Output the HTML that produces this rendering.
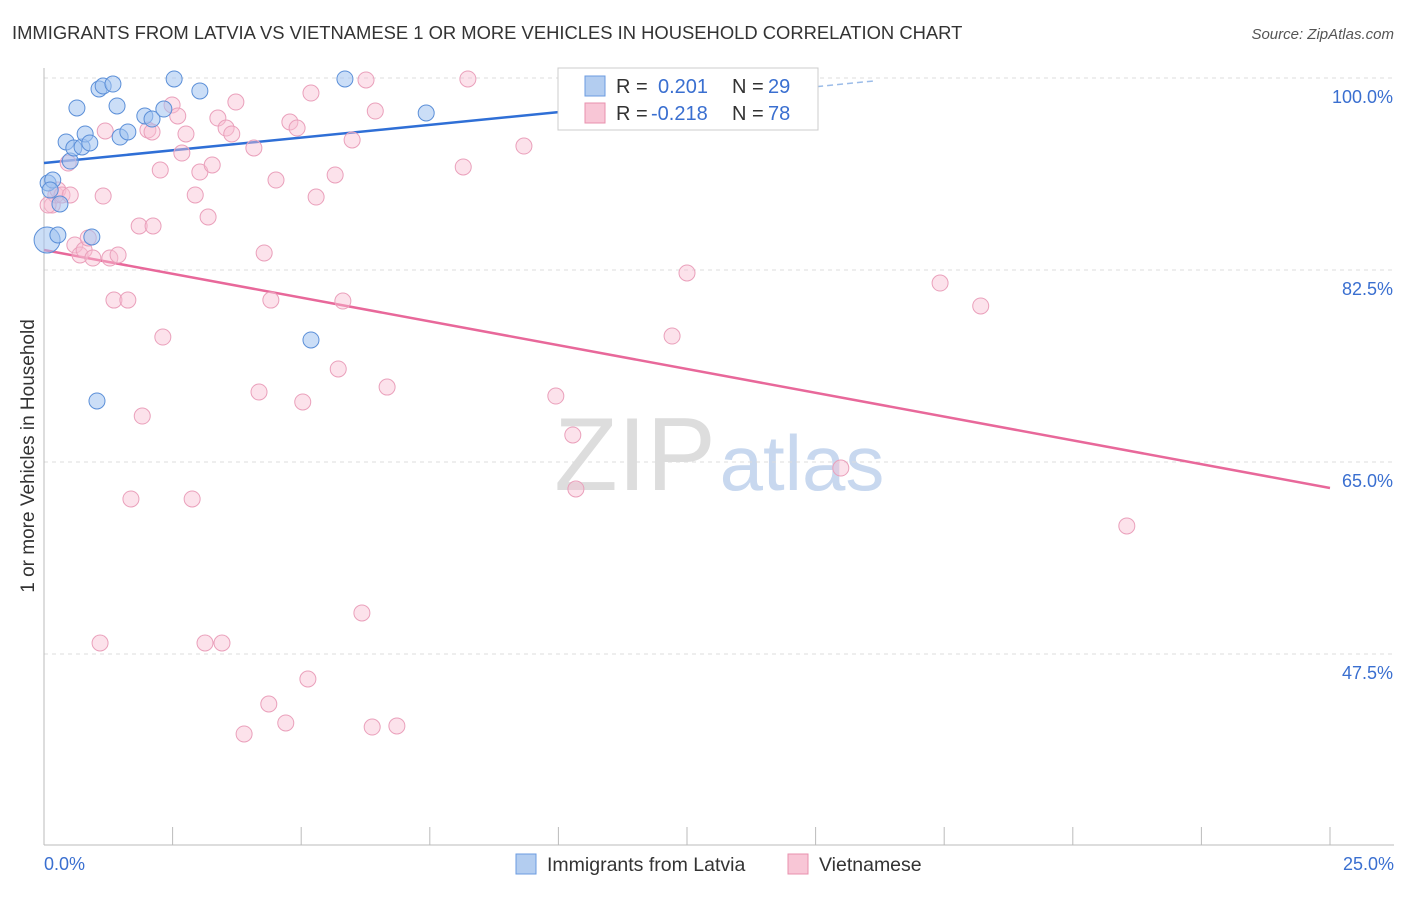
<!DOCTYPE html>
<html><head><meta charset="utf-8"><style>
body{margin:0;background:#fff;font-family:"Liberation Sans",sans-serif;}
svg text{font-family:"Liberation Sans",sans-serif;}
</style></head><body>
<svg id="chart" width="1406" height="892" xmlns="http://www.w3.org/2000/svg">
<text x="12" y="39" font-size="18.4" fill="#333">IMMIGRANTS FROM LATVIA VS VIETNAMESE 1 OR MORE VEHICLES IN HOUSEHOLD CORRELATION CHART</text>
<text x="1394" y="39" font-size="15" fill="#555" text-anchor="end" font-style="italic">Source: ZipAtlas.com</text>
<text x="34" y="456" font-size="19" fill="#333" text-anchor="middle" transform="rotate(-90 34 456)">1 or more Vehicles in Household</text>
<g><text x="635" y="490" font-size="104" fill="#ddd" text-anchor="middle" font-family="Liberation Serif">ZIP</text><text x="802" y="490" font-size="78" fill="#c8d8ef" text-anchor="middle">atlas</text></g>
<g id="grid"></g><g id="axes"></g><g id="lines"></g><g id="pts"></g>
<g>
<rect x="558" y="68" width="260" height="62" fill="#fff" stroke="#ccc"/>
<rect x="585" y="76" width="20" height="20" fill="#b3cdf0" stroke="#6b9be0"/>
<rect x="585" y="103" width="20" height="20" fill="#f8c6d6" stroke="#e890ae"/>
<text x="616" y="93" font-size="20" fill="#333">R = </text><text x="658" y="93" font-size="20" fill="#3a6fd0">0.201</text>
<text x="732" y="93" font-size="20" fill="#333">N = </text><text x="768" y="93" font-size="20" fill="#3a6fd0">29</text>
<text x="616" y="120" font-size="20" fill="#333">R = </text><text x="651" y="120" font-size="20" fill="#3a6fd0">-0.218</text>
<text x="732" y="120" font-size="20" fill="#333">N = </text><text x="768" y="120" font-size="20" fill="#3a6fd0">78</text>
</g>
<g>
<rect x="516" y="854" width="20" height="20" fill="#b3cdf0" stroke="#6b9be0"/>
<text x="547" y="871" font-size="19.5" fill="#333">Immigrants from Latvia</text>
<rect x="788" y="854" width="20" height="20" fill="#f8c6d6" stroke="#e890ae"/>
<text x="819" y="871" font-size="19.5" fill="#333">Vietnamese</text>
</g>
</svg>
<script>
const blueX=[0.08,0.17,0.06,0.27,0.31,0.43,0.51,0.58,0.64,0.74,0.80,0.89,0.93,1.03,1.07,1.15,1.34,1.42,1.48,1.63,1.96,2.10,2.33,2.53,3.03,5.19,5.85,7.43,0.12];
const blueY=[90.43,90.70,85.23,85.69,88.52,94.17,92.43,93.62,97.27,93.71,94.90,94.08,85.51,70.56,99.00,99.27,99.45,97.45,94.62,95.08,96.54,96.26,97.17,99.91,98.82,76.12,99.91,96.81,89.79];
const pinkX=[0.16,0.23,0.27,0.35,0.47,0.51,0.60,0.70,0.78,0.86,0.95,1.09,1.15,1.19,1.28,1.36,1.44,1.63,1.85,1.91,2.02,2.10,2.12,2.26,2.31,2.49,2.60,2.68,2.76,2.88,2.94,3.03,3.13,3.19,3.27,3.38,3.46,3.54,3.65,3.73,4.08,4.18,4.28,4.41,4.51,4.78,4.92,5.03,5.13,5.19,5.29,4.37,3.89,4.70,5.66,5.72,5.81,5.99,6.18,6.26,6.38,6.44,6.67,6.86,8.15,8.24,9.33,9.95,10.28,10.34,12.21,12.50,15.49,17.42,18.21,21.05,1.69,0.08];
const pinkY=[88.42,89.34,89.79,89.34,92.25,89.34,84.78,83.87,84.32,85.42,83.59,48.50,89.24,95.17,83.59,79.76,83.87,79.76,86.51,69.19,95.26,95.08,86.51,91.61,76.39,97.54,96.54,93.16,94.90,61.63,89.34,91.43,48.50,87.33,92.07,96.35,48.50,95.44,94.90,97.81,93.62,71.38,84.05,79.76,90.70,95.99,95.44,70.47,45.22,98.63,89.15,42.94,40.21,41.21,91.16,73.48,79.67,94.35,51.24,99.82,40.84,96.99,71.83,40.94,91.89,99.91,93.80,71.01,67.46,62.54,76.48,82.23,64.45,81.31,79.22,59.17,61.63,88.42];
const yTicks=[100,82.5,65,47.5];
const yTickLabels=["100.0%","82.5%","65.0%","47.5%"];
const xTicks=[0,2.5,5,7.5,10,12.5,15,17.5,20,22.5,25];
const blueTrend=[92.25,0.4636];
const pinkTrend=[84.32,62.63];
const NS="http://www.w3.org/2000/svg";
const X=v=>44+v/25*1286, Y=v=>78+(100-v)*10.971;
function mk(tag,attrs,parent){const e=document.createElementNS(NS,tag);for(const k in attrs)e.setAttribute(k,attrs[k]);document.getElementById(parent).appendChild(e);return e;}
yTicks.forEach((t,i)=>{
 const l=mk('line',{x1:44,x2:1394,y1:Y(t),y2:Y(t),stroke:'#ddd','stroke-dasharray':'4,4'},'grid');
 
 
 const tx=mk('text',{x:1393,y:Y(t)+25,'font-size':18,fill:'#3a6fd0','text-anchor':'end'},'grid');
 tx.textContent=yTickLabels[i];
 
 
});
const ax=mk('line',{x1:44,x2:44,y1:68,y2:845,stroke:'#bbb'},'axes');


const bx=mk('line',{x1:44,x2:1394,y1:845,y2:845,stroke:'#bbb'},'axes');


xTicks.forEach(t=>{const l=mk('line',{x1:X(t),x2:X(t),y1:827,y2:845,stroke:'#bbb'},'axes');
 
 });
const x0=mk('text',{x:44,y:870,'font-size':18,fill:'#3a6fd0'},'axes');x0.textContent=xTicks[0].toFixed(1)+'%';


const x1=mk('text',{x:1394,y:870,'font-size':18,fill:'#3a6fd0','text-anchor':'end'},'axes');x1.textContent=xTicks[10].toFixed(1)+'%';


pinkX.forEach((x,i)=>{const c=mk('circle',{cx:X(x),cy:Y(pinkY[i]),r:8,fill:'rgba(248,190,210,0.45)',stroke:'#eaa0bb','stroke-width':1},'pts');
 
 });
blueX.forEach((x,i)=>{const c=mk('circle',{cx:X(x),cy:Y(blueY[i]),r:i==2?13:8,fill:'rgba(160,195,240,0.55)',stroke:'#5b8fd8','stroke-width':1},'pts');
 
 });
const b1=mk('line',{x1:X(0),y1:Y(blueTrend[0]),x2:X(10),y2:Y(blueTrend[0]+10*blueTrend[1]),stroke:'#2f6fd6','stroke-width':2.5},'lines');


const b2=mk('line',{x1:X(10),y1:Y(blueTrend[0]+10*blueTrend[1]),x2:X(16.15),y2:Y(blueTrend[0]+16.15*blueTrend[1]),stroke:'#9bbce8','stroke-width':1.5,'stroke-dasharray':'6,4'},'lines');


const p1=mk('line',{x1:X(0),y1:Y(pinkTrend[0]),x2:X(25),y2:Y(pinkTrend[1]),stroke:'#e8689a','stroke-width':2.5},'lines');


</script>
</body></html>
